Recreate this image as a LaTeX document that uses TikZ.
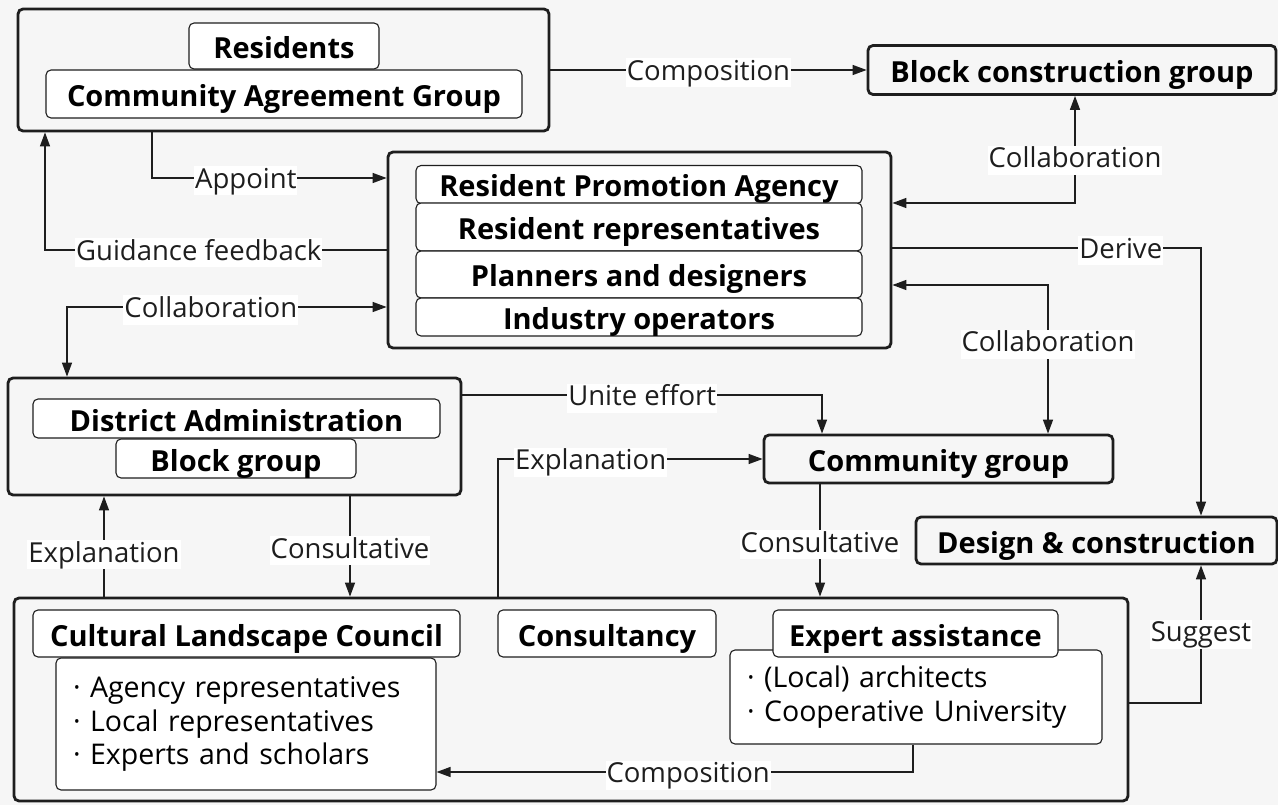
\documentclass[tikz,border=0pt]{standalone}
\usepackage{fontspec}
\setmainfont{Open Sans}
\usetikzlibrary{arrows.meta}
\definecolor{paper}{HTML}{F6F6F6}
\definecolor{ink}{HTML}{1E1E1E}

\begin{document}
\begin{tikzpicture}[x=1pt,y=-1pt,
  head/.style={font=\fontsize{29}{33}\selectfont\bfseries,text height=25pt,text depth=0pt},
  outer/.style={draw=ink,line width=2.8pt,rounded corners=5pt,inner sep=0pt},
  item/.style={draw=ink,fill=white,line width=1.1pt,rounded corners=5pt,inner sep=0pt,head},
  lst/.style={draw=ink,fill=white,line width=1.1pt,rounded corners=5pt,inner ysep=0pt,align=left,font=\fontsize{28.5}{33.5}\selectfont},
  lbl/.style={fill=white,inner sep=1pt,yshift=-3pt,text=ink,text height=21pt,text depth=6pt,font=\fontsize{27.5}{31}\selectfont},
  con/.style={draw=ink,line width=1.4pt,-{Triangle[length=14pt,width=10pt]}},
  con2/.style={draw=ink,line width=1.4pt,{Triangle[length=14pt,width=10pt]}-{Triangle[length=14pt,width=10pt]}}]
\useasboundingbox (0,0) rectangle (1278,805);
\fill[paper] (0,0) rectangle (1278,805);

% residents
\node[outer,minimum width=531pt,minimum height=122pt] (A) at (283.5,70) {};
\node[item,minimum width=190pt,minimum height=46pt] (res) at (284,46) {Residents};
\node[item,minimum width=476pt,minimum height=48pt] (cag) at (284,94) {Community Agreement Group};

\node[outer,head,minimum width=408pt,minimum height=49pt] (B) at (1072,70) {Block construction group};

% agency
\node[outer,minimum width=503pt,minimum height=196pt] (C) at (639.5,250) {};
\node[item,minimum width=446pt,minimum height=38pt] (rpa) at (639,184.5) {Resident Promotion Agency};
\node[item,minimum width=446pt,minimum height=48pt] (rr) at (639,227) {Resident representatives};
\node[item,minimum width=446pt,minimum height=47pt] (pd) at (639,274.5) {Planners and designers};
\node[item,minimum width=446pt,minimum height=38pt] (io) at (639,317) {Industry operators};

% district
\node[outer,minimum width=453pt,minimum height=117pt] (D) at (234.5,436.5) {};
\node[item,minimum width=407pt,minimum height=39pt] (da) at (236.5,418.5) {District Administration};
\node[item,minimum width=240pt,minimum height=39pt] (bg) at (236,458.5) {Block group};

\node[outer,head,minimum width=349pt,minimum height=48pt] (CG) at (938.5,459) {Community group};
\node[outer,head,minimum width=361pt,minimum height=47pt] (E) at (1096.5,540.5) {Design \& construction};

% council
\node[outer,minimum width=1114pt,minimum height=203pt] (F) at (571,699.5) {};
\node[lst,minimum width=380pt,minimum height=132pt,text width=346pt,inner xsep=17pt] (cll) at (246,724)
  {· Agency representatives\\· Local representatives\\· Experts and scholars};
\node[item,minimum width=427pt,minimum height=47pt] (clc) at (246.5,633.5) {Cultural Landscape Council};
\node[item,minimum width=218pt,minimum height=47pt] (cons) at (607,633.5) {Consultancy};
\node[lst,minimum width=372pt,minimum height=94pt,text width=338pt,inner xsep=17pt] (eal) at (916,697)
  {· (Local) architects\\· Cooperative University};
\node[item,minimum width=285pt,minimum height=47pt] (ea) at (915.5,633.5) {Expert assistance};

\draw[con] (A.east) -- node[lbl]{Composition} (B.west);
\draw[con] (A.south -| 152,0) |- node[lbl,pos=0.7]{Appoint} (C.west |- 0,178);
\draw[con] (C.west) -| node[lbl,pos=0.275]{Guidance feedback} (A.south -| 45,0);
\draw[con2] (D.north -| 67,0) |- node[lbl,pos=0.725]{Collaboration} (C.west |- 0,307);
\draw[con2] (B.south -| 1075,0) |- node[lbl,pos=0.287]{Collaboration} (C.east |- 0,203);
\draw[con] (C.east |- 0,248) -| node[lbl,pos=0.37]{Derive} (E.north -| 1201,0);
\draw[con2] (C.east |- 0,285) -| node[lbl,pos=0.69]{Collaboration} (CG.north -| 1048,0);
\draw[con] (D.east |- 0,395) -| node[lbl,pos=0.25]{Unite effort} (CG.north -| 822,0);
\draw[con] (F.north -| 104,0) -- node[lbl,pos=0.45]{Explanation} (D.south -| 104,0);
\draw[con] (D.south -| 350,0) -- node[lbl,pos=0.51]{Consultative} (F.north -| 350,0);
\draw[con] (F.north -| 498,0) |- node[lbl,pos=0.675]{Explanation} (CG.west);
\draw[con] (CG.south -| 820,0) -- node[lbl,pos=0.51]{Consultative} (F.north -| 820,0);
\draw[con] (F.east |- 0,703) -| node[lbl,pos=0.76]{Suggest} (E.south -| 1201,0);
\draw[con] (eal.south -| 913,0) |- node[lbl,pos=0.736]{Composition} (cll.east |- 0,772);
\end{tikzpicture}
\end{document}
